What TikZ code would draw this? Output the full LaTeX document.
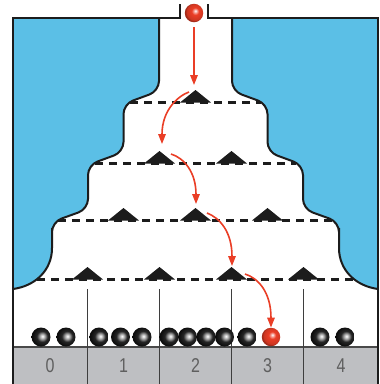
\documentclass[tikz,border=0pt]{standalone}
\usepackage{fontspec}
\usepackage{graphicx}
\setmainfont{Liberation Sans}
\usetikzlibrary{arrows.meta}

\definecolor{tank}{RGB}{91,191,230}
\definecolor{binband}{RGB}{190,191,194}
\definecolor{drop}{RGB}{234,62,38}
\definecolor{ink}{RGB}{28,28,28}
\definecolor{digitgray}{RGB}{95,95,95}

% shaded spheres: dark steel balls and the red test ball
\pgfdeclareradialshading{steelball}{\pgfpoint{4bp}{2bp}}{%
  color(0bp)=(white); color(4bp)=(white!80!black); color(9bp)=(black!50);
  color(14bp)=(black!85); color(25bp)=(black!95); color(50bp)=(black!95)}
\pgfdeclareradialshading{redball}{\pgfpoint{4bp}{6bp}}{%
  color(0bp)=(white); color(4bp)=(drop!45!white); color(10bp)=(drop);
  color(22bp)=(drop!88!black); color(25bp)=(drop!70!black); color(50bp)=(drop!70!black)}

% left wall of the stepped funnel, centred on x = 0
\def\wallpath{(-36.5,18) -- (-36.5,70) [rounded corners=10pt] -- (-36.5,91) -- (-72,104)
  -- (-72,152) -- (-107.5,165) -- (-107.5,209) -- (-143.5,222) -- (-143.5,238)
  [sharp corners] .. controls (-143.5,270) and (-160,286) .. (-182.5,289)}

\begin{document}
\begin{tikzpicture}[x=1pt,y=-1pt,
    frame/.style={draw=ink,line width=2.5pt},
    wall/.style={draw=ink,line width=2pt},
    level/.style={draw=ink,line width=3pt,dash pattern=on 8pt off 6pt},
    peg/.style={fill=ink},
    divider/.style={draw=ink!85,line width=1.8pt},
    steel/.style={circle,inner sep=0pt,minimum size=19pt,shading=steelball},
    redsphere/.style={circle,inner sep=0pt,minimum size=18.5pt,shading=redball},
    track/.style={draw=drop,line width=1.6pt,-{Triangle[length=10pt,width=7.5pt]}},
    digit/.style={text=digitgray,inner sep=0pt,font=\fontsize{20}{20}\selectfont}]
  \useasboundingbox (0,0) rectangle (380,384);
  \fill[white] (0,0) rectangle (380,384);

  % water-blue body behind the funnel
  \fill[tank] (13,18) rectangle (378,291);

  % funnel interior, left half and mirrored right half
  \foreach \s in {1,-1} {
    \begin{scope}[shift={(195.5,0)},xscale=\s]
      \fill[white] \wallpath -- (-182.5,350) -- (4,350) -- (4,18) -- cycle;
    \end{scope}
  }

  % dashed levels
  \draw[level] (130,102) -- (261,102);
  \draw[level] (95,163) -- (296,163);
  \draw[level] (58,220) -- (333,220);
  \draw[level] (37,279) -- (354,279);

  % funnel walls
  \foreach \s in {1,-1} {
    \begin{scope}[shift={(195.5,0)},xscale=\s]
      \draw[wall] \wallpath;
    \end{scope}
  }

  % pegs
  \foreach \x/\y in {195.5/102, 159.5/163, 231.5/163, 123.5/220, 195.5/220, 267.5/220,
                     87.5/279, 159.5/279, 231.5/279, 303.5/279}
    \fill[peg] (\x-15.5,\y+0.5) -- (\x,\y-12) -- (\x+15.5,\y+0.5) -- cycle;

  % bins and the numbered band
  \fill[binband] (13,347) rectangle (378,384);
  \draw[ink!80,line width=1.2pt] (13,347) -- (378,347);
  \foreach \x in {87.5,159.5,231.5,303.5}
    \draw[divider] (\x,289) -- (\x,384);

  % outer frame with the inlet notch
  \draw[frame] (180,4) -- (180,18) -- (13,18) -- (13,384);
  \draw[frame] (208,4) -- (208,18) -- (378,18) -- (378,384);

  \node[digit] (n0) at (50,366) {\scalebox{0.8}[1]{0}};
  \node[digit] (n1) at (123.5,366) {\scalebox{0.8}[1]{1}};
  \node[digit] (n2) at (195.5,366) {\scalebox{0.8}[1]{2}};
  \node[digit] (n3) at (267.5,366) {\scalebox{0.8}[1]{3}};
  \node[digit] (n4) at (341,366) {\scalebox{0.8}[1]{4}};

  % collected balls
  \node[steel] (b01) at (41,337) {};
  \node[steel] (b02) at (66,337) {};
  \node[steel] (b11) at (99,337) {};
  \node[steel] (b12) at (120.5,337) {};
  \node[steel] (b13) at (142,337) {};
  \node[steel] (b21) at (169,337) {};
  \node[steel] (b22) at (187.5,337) {};
  \node[steel] (b23) at (206,337) {};
  \node[steel] (b24) at (224.5,337) {};
  \node[steel] (b31) at (247,337) {};
  \node[redsphere] (landed) at (271,337) {};
  \node[steel] (b41) at (320,337) {};
  \node[steel] (b42) at (345,337) {};

  % the falling ball and its path
  \node[redsphere] (start) at (194,13) {};
  \coordinate (p0) at (194,85);
  \coordinate (q1) at (189,92);  \coordinate (p1) at (162,144);
  \coordinate (q2) at (171,154); \coordinate (p2) at (196,204);
  \coordinate (q3) at (207,213); \coordinate (p3) at (232,266);
  \coordinate (q4) at (245,274);

  \draw[track,shorten <=5pt] (start) -- (p0);
  \draw[track] (q1) .. controls (178,96) and (162,110) .. (p1);
  \draw[track] (q2) .. controls (184,158) and (196,172) .. (p2);
  \draw[track] (q3) .. controls (220,218) and (232,232) .. (p3);
  \draw[track] (q4) .. controls (258,278) and (271,292) .. (landed);
\end{tikzpicture}
\end{document}
